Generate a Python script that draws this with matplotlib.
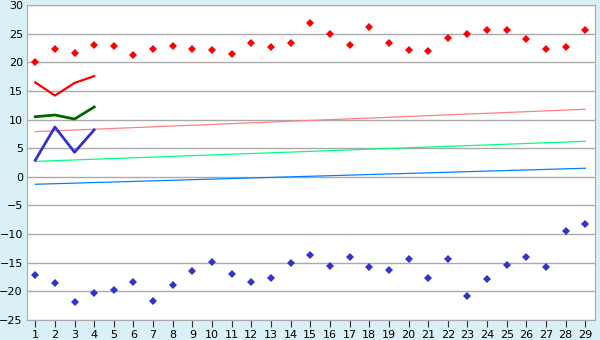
import numpy as np
import matplotlib.pyplot as plt

days = list(range(1, 30))

# upper series (red diamonds)
high = [20.0, 22.4, 21.6, 23.0, 22.8, 21.2, 22.3, 22.8, 22.4,
        22.1, 21.4, 23.3, 22.6, 23.3, 26.8, 25.0, 23.1, 26.1, 23.3,
        22.1, 21.9, 24.2, 25.0, 25.7, 25.7, 24.0, 22.3, 22.6, 25.6]

# lower series (blue diamonds)
low = [-17.2, -18.6, -21.9, -20.3, -19.7, -18.3, -21.7, -18.9, -16.5,
       -14.9, -17.0, -18.4, -17.7, -15.1, -13.7, -15.6, -14.0, -15.8, -16.2,
       -14.4, -17.7, -14.4, -20.9, -17.9, -15.4, -14.0, -15.8, -9.5, -8.3]

# short lines over the first four days
short_x = [1, 2, 3, 4]
red_line = [16.5, 14.2, 16.4, 17.6]
green_line = [10.5, 10.8, 10.1, 12.2]
blue_line = [2.9, 8.7, 4.3, 8.2]

# thin trend lines, start and end values
trend_x = [1, 29]
trend_pink = [7.9, 11.8]
trend_green = [2.7, 6.2]
trend_blue = [-1.3, 1.5]

fig = plt.figure(figsize=(6, 3.4), dpi=100, facecolor='#d9f0f7')
ax = fig.add_axes([0.045, 0.059, 0.947, 0.926])
ax.set_facecolor('white')

for v in range(-25, 31, 5):
    ax.axhline(v, color='#aaaaaa', lw=1, zorder=0)

ax.plot(trend_x, trend_pink, color='#ff8080', lw=0.9)
ax.plot(trend_x, trend_green, color='#00ff80', lw=0.9)
ax.plot(trend_x, trend_blue, color='#0080ff', lw=0.9)

ax.plot(short_x, red_line, color='#ff0000', lw=1.6)
ax.plot(short_x, green_line, color='#006600', lw=2)
ax.plot(short_x, blue_line, color='#3333cc', lw=2)

ax.plot(days, high, 'D', color='#ff0000', ms=3.8, mew=0)
ax.plot(days, low, 'D', color='#3333cc', ms=3.8, mew=0)

ax.set_xlim(0.58, 29.5)
ax.set_ylim(-25, 30)
ax.set_xticks(days)
ax.set_yticks(range(-25, 31, 5))
ax.tick_params(axis='x', length=5, color='#333333', labelsize=8, pad=2)
ax.tick_params(axis='y', length=0, labelsize=8, pad=3)
for s in ax.spines.values():
    s.set_color('#aaaaaa')

fig.savefig('out.png', dpi=100, facecolor=fig.get_facecolor())
